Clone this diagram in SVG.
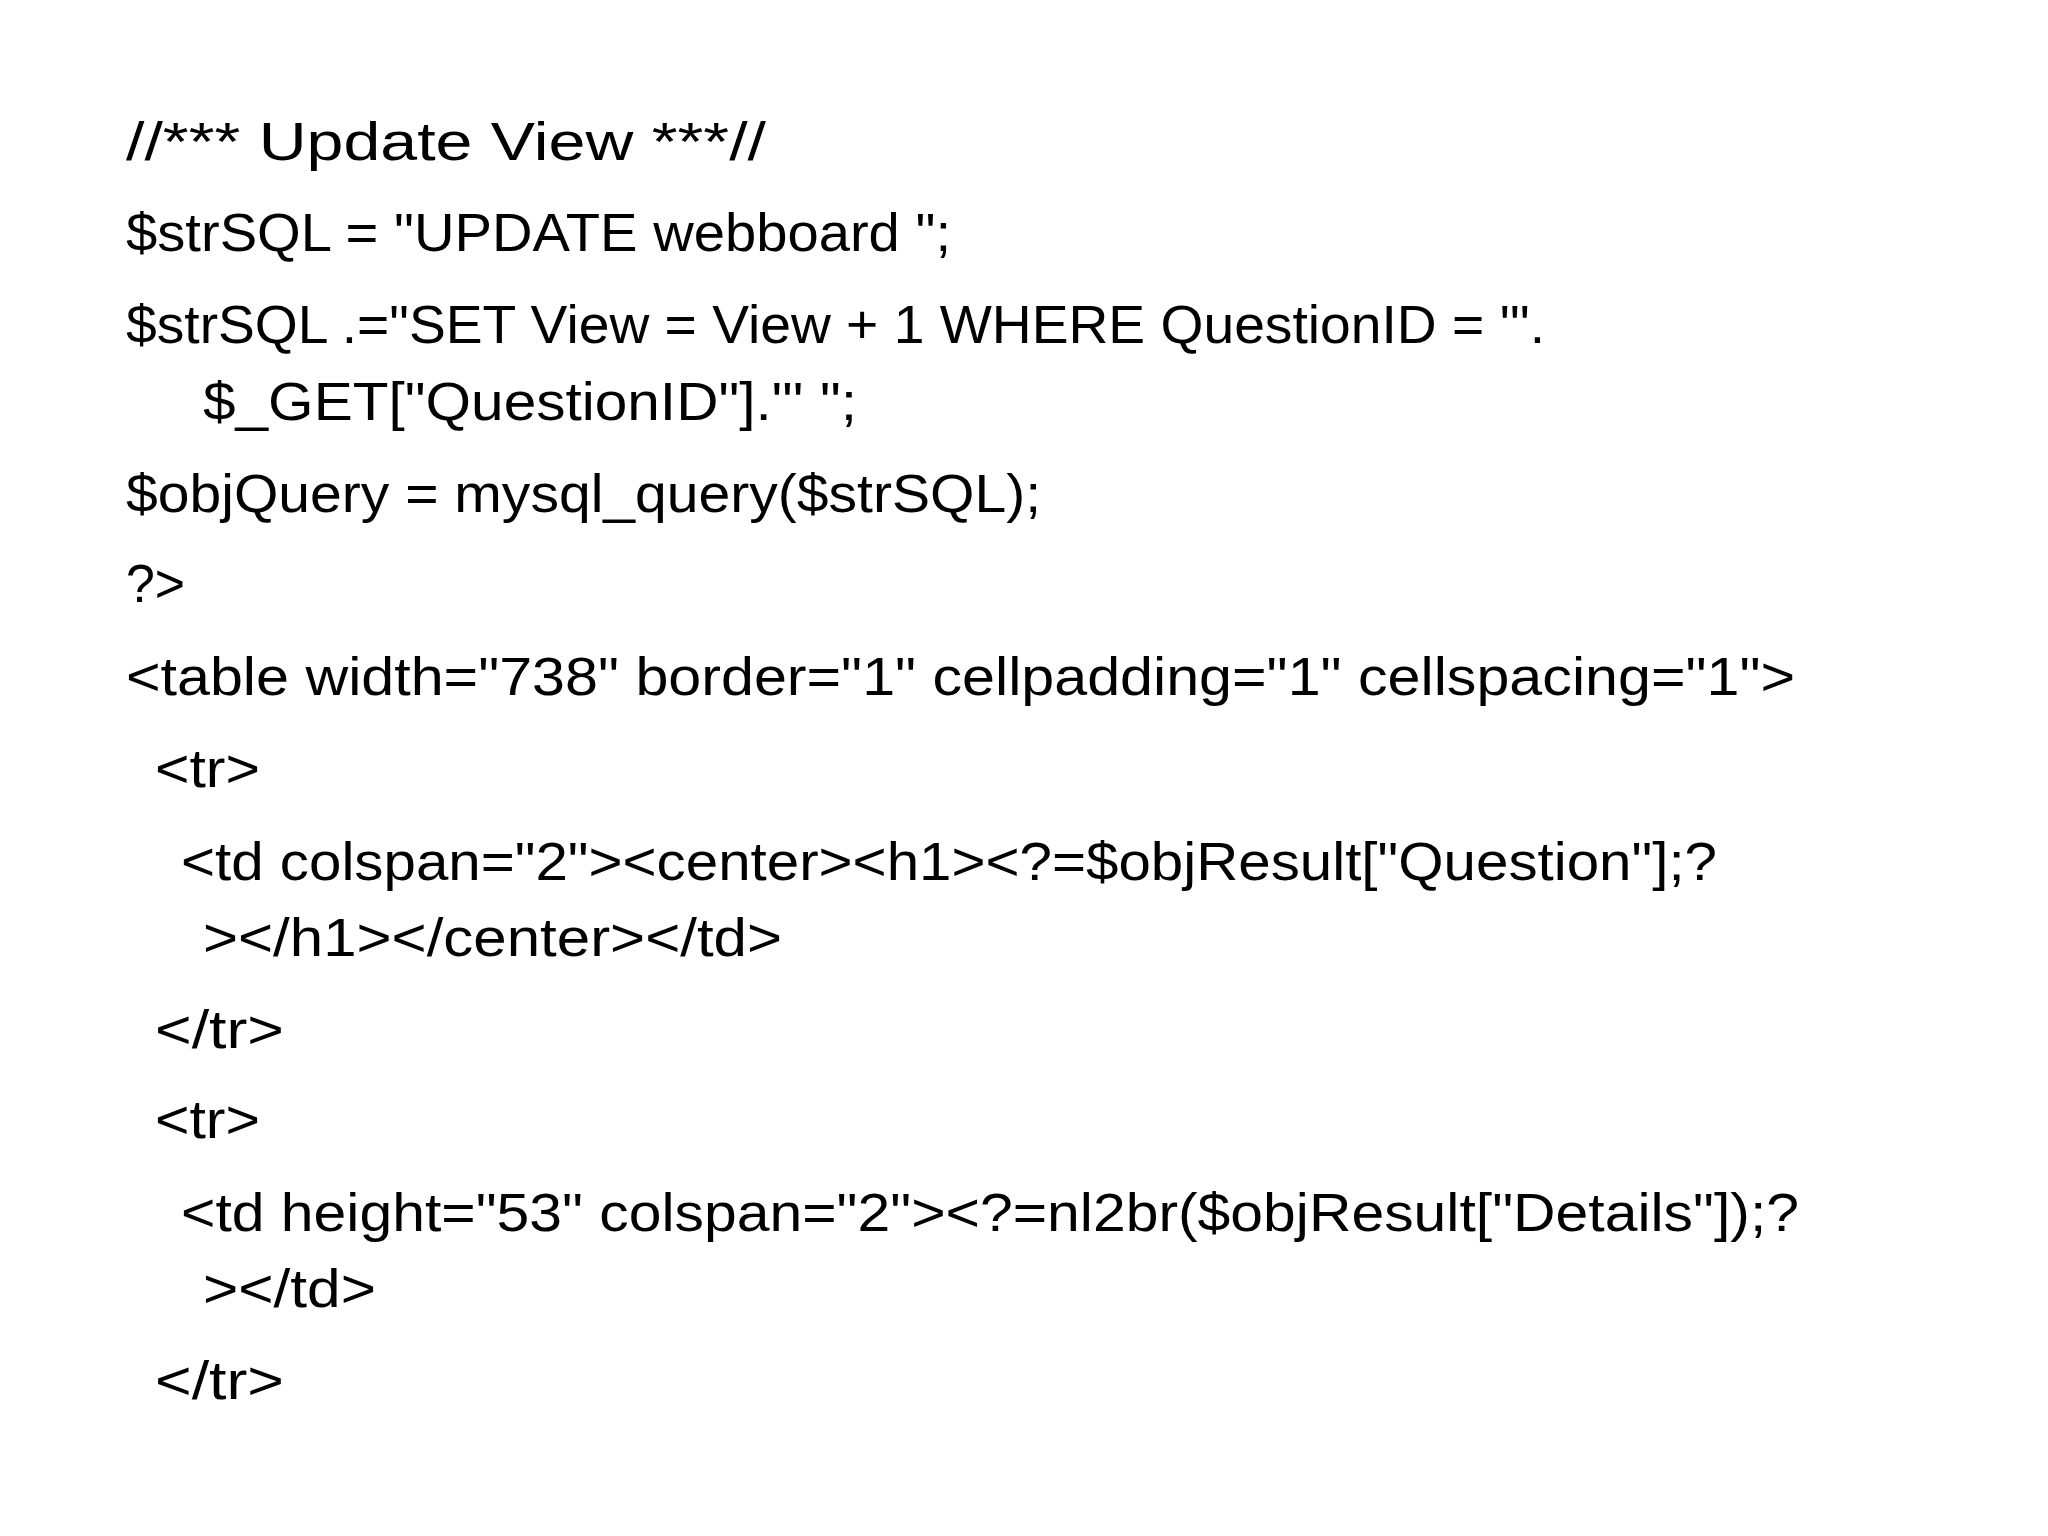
<svg xmlns="http://www.w3.org/2000/svg" width="2048" height="1536" viewBox="0 0 2048 1536">
<style>text{font-family:"Liberation Sans","Open Sans",sans-serif;font-size:54px;fill:#000}</style>
<rect width="2048" height="1536" fill="#fff"/>
<text x="126" y="160" textLength="640" lengthAdjust="spacingAndGlyphs">//*** Update View ***//</text>
<text x="126" y="251" textLength="825" lengthAdjust="spacingAndGlyphs">$strSQL = "UPDATE webboard ";</text>
<text x="126" y="343" textLength="1419" lengthAdjust="spacingAndGlyphs">$strSQL .="SET View = View + 1 WHERE QuestionID = '".</text>
<text x="203" y="420" textLength="654" lengthAdjust="spacingAndGlyphs">$_GET["QuestionID"]."' ";</text>
<text x="126" y="512" textLength="915" lengthAdjust="spacingAndGlyphs">$objQuery = mysql_query($strSQL);</text>
<text x="126" y="602" textLength="59" lengthAdjust="spacingAndGlyphs">?&gt;</text>
<text x="126" y="695" textLength="1669" lengthAdjust="spacingAndGlyphs">&lt;table width="738" border="1" cellpadding="1" cellspacing="1"&gt;</text>
<text x="155" y="787" textLength="105" lengthAdjust="spacingAndGlyphs">&lt;tr&gt;</text>
<text x="181" y="880" textLength="1536" lengthAdjust="spacingAndGlyphs">&lt;td colspan="2"&gt;&lt;center&gt;&lt;h1&gt;&lt;?=$objResult["Question"];?</text>
<text x="203" y="956" textLength="579" lengthAdjust="spacingAndGlyphs">&gt;&lt;/h1&gt;&lt;/center&gt;&lt;/td&gt;</text>
<text x="155" y="1048" textLength="129" lengthAdjust="spacingAndGlyphs">&lt;/tr&gt;</text>
<text x="155" y="1138" textLength="105" lengthAdjust="spacingAndGlyphs">&lt;tr&gt;</text>
<text x="181" y="1231" textLength="1618" lengthAdjust="spacingAndGlyphs">&lt;td height="53" colspan="2"&gt;&lt;?=nl2br($objResult["Details"]);?</text>
<text x="203" y="1307" textLength="173" lengthAdjust="spacingAndGlyphs">&gt;&lt;/td&gt;</text>
<text x="155" y="1399" textLength="129" lengthAdjust="spacingAndGlyphs">&lt;/tr&gt;</text>
</svg>
